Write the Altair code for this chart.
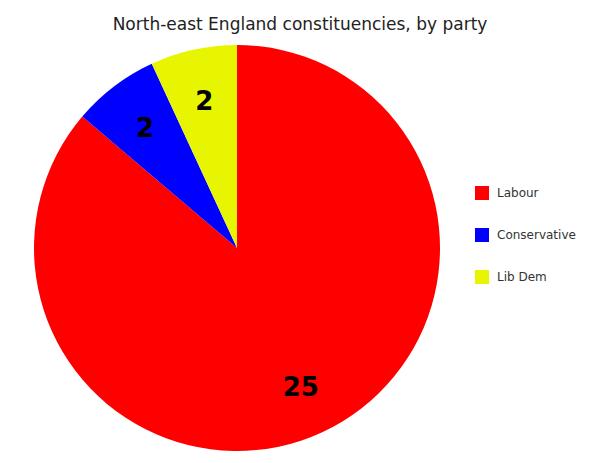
import altair as alt
import pandas as pd

parties = ["Labour", "Conservative", "Lib Dem"]
seats = [25, 2, 2]
colors = ["#ff0000", "#0000ff", "#e8f500"]
order = [0, 1, 2]

df = pd.DataFrame({"party": parties, "seats": seats, "ord": order})

base = alt.Chart(df).encode(
    theta=alt.Theta("seats:Q", stack=True),
    order=alt.Order("ord:Q"),
    x=alt.value(229),
    y=alt.value(210),
)

pie = base.mark_arc(radius=203, stroke=None).encode(
    color=alt.Color(
        "party:N",
        scale=alt.Scale(domain=parties, range=colors),
        sort=parties,
        legend=alt.Legend(
            title=None,
            orient="none",
            legendX=467,
            legendY=148,
            symbolType="square",
            symbolSize=196,
            symbolStrokeWidth=0,
            symbolOpacity=1,
            labelFont="DejaVu Sans",
            labelFontSize=12,
            labelColor="#333333",
            labelOffset=8,
            rowPadding=28,
        ),
    )
)

labels = base.mark_text(
    radius=152,
    dy=2,
    font="DejaVu Sans",
    fontSize=26,
    fontWeight="bold",
    color="#000000",
    baseline="middle",
    align="center",
).encode(text="seats:Q")

chart = (
    alt.layer(pie, labels)
    .properties(
        width=584,
        height=420,
        padding={"left": 0, "top": 30, "right": 0, "bottom": 0},
        autosize=alt.AutoSizeParams(type="none"),
        title=alt.TitleParams(
            "North-east England constituencies, by party",
            font="DejaVu Sans",
            fontSize=17,
            fontWeight="normal",
            color="#222222",
            anchor="middle",
        ),
    )
    .configure_view(stroke=None)
)

chart.save("out.html", embed_options={"renderer": "svg", "actions": False})
